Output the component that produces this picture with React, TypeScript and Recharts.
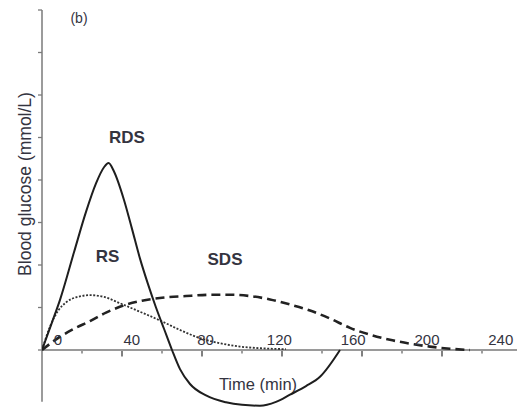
import React from 'react';
import { ComposedChart, Line, XAxis, YAxis, ReferenceLine } from 'recharts';

// ---- data (time in min, blood glucose change in mmol/L) ----
const rdsTime = [0, 5, 9, 16, 22, 27, 31, 33.3, 36, 41, 45, 49, 53, 57, 61, 65, 69, 74, 82, 92, 100, 109, 117, 124, 132, 139, 149];
const rdsGlucose = [0, 0.65, 1.18, 2.3, 3.25, 3.92, 4.3, 4.4, 4.2, 3.53, 2.85, 2.15, 1.55, 1.0, 0.5, 0, -0.45, -0.8, -1.07, -1.23, -1.29, -1.31, -1.22, -1.05, -0.85, -0.63, 0];

const rsTime = [0, 4, 8, 12, 17, 24, 31, 39, 49, 54, 61, 70, 79, 90, 99, 110, 122];
const rsGlucose = [0, 0.55, 0.92, 1.12, 1.24, 1.29, 1.25, 1.1, 0.9, 0.8, 0.65, 0.45, 0.28, 0.15, 0.08, 0.04, 0.02];

const sdsTime = [0, 8, 16, 24, 32, 41, 50, 60, 72, 85, 95, 104, 114, 124, 134, 144, 154, 164, 174, 184, 194, 204, 214];
const sdsGlucose = [0, 0.28, 0.5, 0.68, 0.88, 1.05, 1.16, 1.23, 1.27, 1.3, 1.3, 1.27, 1.19, 1.07, 0.93, 0.74, 0.52, 0.36, 0.24, 0.15, 0.08, 0.03, 0];

const xTicks = [20, 40, 60, 80, 100, 120, 140, 160, 180, 200, 220];
const xTickLabels = [0, 40, 80, 120, 160, 200, 240];
const yTicks = [0, 1, 2, 3, 4, 5, 6, 7, 8];

const zip = (t: number[], v: number[]) => t.map((tt, i) => ({ t: tt, v: v[i] }));
const rdsData = zip(rdsTime, rdsGlucose);
const rsData = zip(rsTime, rsGlucose);
const sdsData = zip(sdsTime, sdsGlucose);

// ---- layout ----
const W = 517;
const H = 407;
const AXIS_H = 1;
const CHART_H = H + 2 * AXIS_H;
const MARGIN = { top: 10, right: 0, bottom: 0, left: 0 };
const Y_AXIS_W = 42;
const Y_DOMAIN: [number, number] = [-1.341, 8];
const X_DOMAIN: [number, number] = [0, 237.5];
const LABEL_DOMAIN: [number, number] = [-8.67, 248.8];
const plotH = CHART_H - MARGIN.top - MARGIN.bottom - 2 * AXIS_H;
const plotW = W - MARGIN.left - MARGIN.right - Y_AXIS_W;
const pxPerUnit = plotH / (Y_DOMAIN[1] - Y_DOMAIN[0]);
const zeroY = MARGIN.top + pxPerUnit * Y_DOMAIN[1];
const xToPx = (t: number) => MARGIN.left + Y_AXIS_W + ((t - X_DOMAIN[0]) * plotW) / (X_DOMAIN[1] - X_DOMAIN[0]);

const FONT = '"Liberation Sans", Arial, Helvetica, sans-serif';
const TEXT = '#34343f';

const TickLabel = (props: any) => (
  <text x={props.x} y={zeroY - 5} textAnchor="middle" fontSize={15} fill={TEXT} fontFamily={FONT}>
    {props.payload.value}
  </text>
);

export default function App() {
  return (
    <div style={{ position: 'absolute', left: 0, top: 0, width: W, height: H, overflow: 'hidden', background: '#fff' }}>
      <ComposedChart width={W} height={CHART_H} margin={MARGIN}>
        <XAxis
          dataKey="t"
          type="number"
          domain={X_DOMAIN}
          allowDataOverflow
          height={AXIS_H}
          axisLine={false}
          tickLine={false}
          tick={false}
        />
        <XAxis
          xAxisId="lab"
          dataKey="t"
          type="number"
          domain={LABEL_DOMAIN}
          allowDataOverflow
          ticks={xTickLabels}
          interval={0}
          height={AXIS_H}
          axisLine={false}
          tickLine={false}
          tick={TickLabel}
        />
        <YAxis
          dataKey="v"
          type="number"
          domain={Y_DOMAIN}
          allowDataOverflow
          ticks={yTicks}
          interval={0}
          width={Y_AXIS_W}
          axisLine={false}
          tickLine={{ stroke: '#7a7a7a', strokeWidth: 1.3 }}
          tickSize={4}
          tick={() => <g />}
        />
        <ReferenceLine y={0} stroke="#9a9a9a" strokeWidth={2} />
        <ReferenceLine
          segment={[
            { x: 0, y: -1.22 },
            { x: 0, y: 8 },
          ]}
          stroke="#7a7a7a"
          strokeWidth={1.5}
        />
        <Line data={sdsData} dataKey="v" type="monotone" stroke="#222" strokeWidth={2.6} strokeDasharray="9 5" dot={false} isAnimationActive={false} />
        <Line data={rsData} dataKey="v" type="monotone" stroke="#333" strokeWidth={1.8} strokeDasharray="2 1.6" dot={false} isAnimationActive={false} />
        <Line data={rdsData} dataKey="v" type="monotone" stroke="#1e1e1e" strokeWidth={2} dot={false} isAnimationActive={false} />

        <g className="x-tick-marks">
          {xTicks.map((t) => {
            const major = t % 40 === 0;
            const x = xToPx(t);
            return (
              <line
                key={`xt${t}`}
                x1={x}
                x2={x}
                y1={zeroY}
                y2={zeroY + (major ? 6.5 : 3.5)}
                stroke="#6a6a6a"
                strokeWidth={major ? 1.7 : 1.3}
              />
            );
          })}
        </g>

        <text x={79} y={23} textAnchor="middle" fontSize={14} fill={TEXT} fontFamily={FONT}>(b)</text>
        <text x={127} y={143} textAnchor="middle" fontSize={17} fontWeight="bold" fill={TEXT} fontFamily={FONT}>RDS</text>
        <text x={107.5} y={262} textAnchor="middle" fontSize={17} fontWeight="bold" fill={TEXT} fontFamily={FONT}>RS</text>
        <text x={225} y={265} textAnchor="middle" fontSize={17} fontWeight="bold" fill={TEXT} fontFamily={FONT}>SDS</text>
        <text x={258} y={390} textAnchor="middle" fontSize={16.5} fill={TEXT} fontFamily={FONT}>Time (min)</text>
        <text
          x={0}
          y={0}
          transform="translate(31 184) rotate(-90)"
          textAnchor="middle"
          fontSize={17.5}
          fill={TEXT}
          fontFamily={FONT}
        >
          Blood glucose (mmol/L)
        </text>
      </ComposedChart>
    </div>
  );
}
